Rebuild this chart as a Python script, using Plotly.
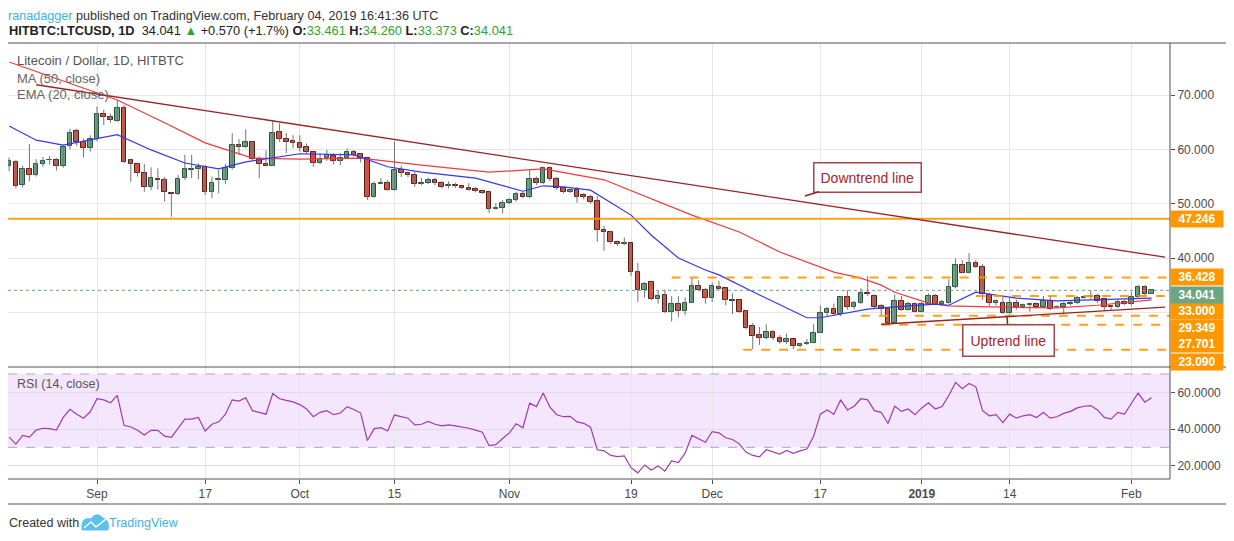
import plotly.graph_objects as go
import pandas as pd

# daily candles, 2018-08-19 .. 2019-02-04 (HITBTC LTCUSD)
FIRST_DAY = '2018-08-19'
LAST_DAY = '2019-02-04'

OPEN = [56.9, 57.7, 53.4, 56.3, 55.2, 57.3, 58.0, 58.0, 57.0, 60.7,
        63.3, 61.4, 60.2, 62.0, 66.6, 66.0, 65.3, 67.6, 58.0, 57.4,
        55.6, 53.0, 54.5, 54.4, 51.9, 51.8, 54.7, 56.2, 56.3, 56.7,
        52.1, 54.3, 54.4, 56.5, 60.8, 60.5, 61.3, 58.2, 57.4, 57.0,
        63.2, 61.9, 61.5, 61.1, 60.4, 59.5, 57.5, 58.4, 58.8, 57.9,
        58.4, 59.6, 59.1, 58.4, 51.3, 53.7, 53.9, 52.6, 56.2, 55.6,
        55.3, 53.6, 53.9, 54.4, 53.8, 53.3, 53.4, 53.2, 52.9, 52.7,
        52.4, 52.1, 49.1, 49.3, 50.1, 50.7, 51.8, 51.2, 54.5, 53.9,
        56.5, 54.5, 52.8, 52.2, 52.5, 51.6, 51.3, 50.5, 45.1, 44.7,
        42.9, 42.6, 42.7, 37.4, 34.1, 35.5, 32.4, 33.1, 30.1, 31.6,
        30.3, 31.8, 34.8, 34.1, 32.6, 34.6, 34.4, 32.3, 32.3, 30.2,
        27.5, 25.8, 25.2, 26.3, 25.2, 24.5, 25.0, 23.8, 24.2, 24.4,
        26.2, 29.8, 30.7, 29.6, 32.9, 30.9, 31.8, 33.6, 33.0, 31.1,
        30.7, 28.1, 32.1, 30.5, 31.5, 30.1, 31.6, 33.0, 31.5, 31.8,
        34.6, 38.7, 37.3, 39.0, 38.3, 33.2, 31.8, 31.8, 29.8, 31.8,
        30.9, 31.4, 31.5, 30.9, 32.1, 30.9, 30.9, 31.5, 31.7, 32.7,
        32.8, 33.0, 32.4, 31.1, 30.9, 31.9, 31.5, 32.8, 34.6, 33.461]
HIGH = [58.5, 58.0, 57.0, 61.0, 58.2, 58.6, 58.8, 58.4, 60.9, 63.8,
        63.8, 62.0, 62.6, 67.9, 67.3, 66.6, 69.1, 68.2, 58.2, 57.6,
        57.3, 56.7, 56.5, 54.9, 52.2, 55.3, 59.0, 59.0, 57.4, 57.1,
        55.0, 56.2, 57.3, 63.0, 61.9, 63.7, 61.5, 58.7, 59.8, 65.4,
        64.8, 63.0, 62.6, 62.6, 61.1, 59.6, 59.3, 59.9, 59.3, 59.3,
        60.2, 59.9, 59.3, 58.5, 54.1, 54.7, 54.4, 61.5, 57.0, 55.9,
        55.9, 54.7, 54.8, 54.8, 54.2, 54.1, 53.9, 53.3, 53.8, 53.1,
        52.6, 52.4, 50.1, 50.7, 51.0, 52.2, 52.2, 56.3, 55.0, 56.8,
        56.9, 54.9, 53.1, 52.8, 53.1, 52.0, 51.6, 51.4, 45.9, 45.0,
        43.2, 43.8, 42.8, 39.1, 35.6, 35.8, 34.1, 34.2, 33.0, 33.0,
        32.7, 36.4, 35.9, 34.5, 35.5, 35.8, 34.6, 33.5, 32.4, 30.4,
        28.0, 27.3, 27.8, 26.7, 25.8, 26.1, 25.0, 24.3, 25.1, 27.8,
        31.3, 31.0, 31.6, 33.0, 34.1, 32.1, 34.4, 36.7, 33.3, 31.5,
        30.9, 33.3, 33.0, 31.9, 31.8, 31.9, 33.5, 33.4, 32.3, 36.1,
        39.9, 39.6, 40.9, 39.6, 38.9, 33.6, 32.4, 32.9, 32.8, 32.3,
        31.6, 31.8, 31.8, 33.0, 32.9, 31.3, 31.9, 32.1, 33.0, 33.1,
        34.1, 33.4, 32.7, 31.3, 32.3, 32.3, 33.8, 35.0, 35.0, 34.26]
LOW = [56.0, 52.8, 53.0, 54.1, 55.0, 56.8, 57.2, 56.1, 56.6, 60.0,
       60.6, 58.5, 59.6, 61.5, 64.5, 64.9, 65.1, 57.5, 54.0, 55.0,
       52.2, 52.5, 52.6, 50.4, 47.6, 51.6, 54.4, 54.7, 54.5, 51.6,
       51.0, 51.9, 53.6, 56.3, 59.0, 60.2, 58.0, 54.7, 56.9, 56.9,
       61.4, 59.3, 60.2, 59.6, 59.2, 56.8, 57.3, 57.9, 57.2, 57.1,
       58.2, 58.7, 57.6, 50.7, 51.1, 53.6, 52.4, 52.4, 54.9, 54.9,
       53.1, 53.4, 53.6, 53.4, 52.8, 52.8, 52.9, 52.7, 52.4, 52.1,
       51.8, 48.3, 48.9, 48.2, 49.9, 50.4, 51.0, 51.0, 53.4, 53.6,
       54.1, 52.5, 51.9, 52.0, 50.2, 50.8, 50.0, 43.0, 41.3, 42.6,
       42.2, 42.4, 36.7, 31.9, 32.7, 32.2, 31.6, 29.9, 28.3, 29.1,
       29.5, 31.7, 34.0, 31.6, 31.9, 34.1, 31.3, 29.7, 29.9, 26.9,
       23.2, 24.0, 25.0, 24.9, 24.2, 24.2, 23.2, 23.6, 24.0, 24.3,
       26.2, 29.2, 29.3, 29.3, 30.5, 30.5, 31.5, 33.0, 30.7, 29.5,
       27.9, 27.9, 30.3, 30.3, 30.0, 30.0, 31.5, 31.3, 31.3, 31.6,
       34.4, 37.2, 37.2, 38.1, 32.3, 31.1, 31.3, 29.7, 29.6, 30.5,
       30.7, 30.1, 30.7, 30.7, 30.4, 30.7, 29.6, 31.3, 31.5, 32.5,
       32.5, 31.7, 30.3, 30.4, 30.8, 31.3, 31.2, 32.6, 33.0, 33.373]
CLOSE = [57.9, 53.3, 56.3, 55.2, 57.4, 57.9, 58.1, 57.0, 60.5, 63.1,
         61.4, 60.2, 62.0, 66.6, 66.0, 65.5, 67.7, 57.7, 57.4, 55.6,
         53.1, 54.7, 54.3, 52.1, 51.7, 54.5, 56.3, 56.3, 56.7, 52.1,
         53.9, 54.5, 56.5, 60.9, 60.5, 61.3, 58.2, 57.4, 57.0, 63.1,
         61.9, 61.4, 61.1, 60.3, 59.5, 57.5, 58.3, 59.0, 57.9, 58.5,
         59.6, 59.0, 58.4, 51.3, 53.7, 53.9, 52.6, 56.2, 55.6, 55.2,
         53.6, 53.9, 54.4, 53.8, 53.1, 53.4, 53.2, 52.8, 52.6, 52.3,
         52.0, 49.1, 49.3, 50.1, 50.7, 51.8, 51.2, 54.5, 53.9, 56.5,
         54.5, 52.8, 52.2, 52.5, 51.3, 51.3, 50.4, 45.1, 44.7, 43.0,
         42.5, 42.7, 37.4, 34.2, 35.3, 32.4, 33.0, 30.1, 31.6, 30.3,
         31.8, 34.9, 34.2, 32.6, 34.8, 34.3, 32.3, 32.1, 30.1, 27.2,
         25.7, 25.2, 26.3, 25.2, 24.5, 25.1, 23.8, 24.2, 24.4, 26.2,
         29.8, 30.7, 29.6, 32.9, 30.9, 31.8, 33.6, 33.3, 31.0, 30.7,
         28.1, 32.1, 30.5, 31.5, 30.1, 31.6, 33.0, 31.5, 31.9, 34.6,
         38.7, 37.3, 39.0, 38.3, 33.3, 31.8, 32.0, 29.8, 31.8, 30.9,
         31.3, 31.5, 30.9, 32.1, 30.7, 31.0, 31.5, 31.8, 32.6, 32.9,
         33.0, 32.1, 31.0, 30.9, 31.9, 31.5, 32.8, 34.6, 33.3, 34.041]

# RSI (14, close), one value per candle
RSI = [35.6, 31.8, 36.5, 35.6, 39.4, 40.4, 40.2, 39.4, 46.3, 50.7,
       48.1, 45.9, 49.4, 56.5, 55.9, 54.3, 58.3, 42.0, 41.1, 39.3,
       36.7, 39.3, 39.3, 36.1, 35.4, 40.7, 45.4, 45.4, 46.3, 38.9,
       42.6, 43.9, 48.1, 55.9, 55.2, 57.0, 50.0, 49.1, 48.1, 59.3,
       56.5, 55.6, 54.8, 53.3, 50.9, 46.7, 49.1, 50.0, 47.8, 48.7,
       52.2, 50.6, 48.7, 33.7, 40.2, 40.7, 38.9, 47.6, 46.7, 45.9,
       42.2, 42.6, 44.1, 42.6, 41.7, 42.2, 41.7, 41.1, 40.4, 39.4,
       38.3, 30.9, 31.5, 34.8, 37.9, 42.9, 40.7, 54.1, 52.2, 59.6,
       51.9, 47.8, 46.7, 46.9, 43.9, 43.1, 41.0, 28.7, 28.1, 25.6,
       25.0, 25.4, 18.9, 16.1, 20.4, 17.6, 19.8, 17.0, 22.6, 21.7,
       26.8, 36.5, 34.8, 32.8, 38.5, 37.9, 35.2, 34.3, 31.9, 27.4,
       25.6, 24.8, 28.7, 27.4, 26.3, 28.3, 26.7, 28.1, 29.1, 36.1,
       48.1, 50.4, 48.1, 55.9, 50.4, 52.4, 56.5, 55.9, 50.0, 49.1,
       43.0, 52.4, 49.6, 50.9, 47.8, 51.5, 54.3, 50.9, 52.2, 58.3,
       65.4, 62.0, 64.8, 63.0, 50.0, 47.2, 47.8, 43.5, 48.1, 45.9,
       47.2, 47.8, 46.3, 49.1, 45.9, 46.7, 48.5, 49.6, 51.5, 52.4,
       52.8, 50.4, 46.3, 45.4, 49.1, 48.1, 53.7, 59.6, 54.6, 57.0]

# MA (50, close) and EMA (20, close), read at candle indexes
MA50_IDX = [0, 16, 23, 29, 36, 43, 52, 61, 71, 79, 88, 90, 92, 101, 108,
            114, 122, 126, 129, 131, 136, 139, 145, 155, 161, 169]
MA50 = [76.1, 69.1, 64.9, 61.2, 58.4, 58.2, 58.4, 57.1, 55.8, 56.4, 54.4,
        53.4, 52.5, 47.9, 44.8, 41.1, 37.4, 36.3, 35.0, 33.7, 31.7, 31.2,
        31.0, 30.8, 31.3, 32.3]
EMA20_IDX = [0, 4, 8, 16, 21, 26, 31, 35, 43, 51, 56, 61, 69, 76, 79, 82,
             86, 90, 92, 95, 99, 103, 105, 111, 118, 120, 127, 129, 137,
             139, 143, 149, 155, 169]
EMA20 = [64.3, 61.7, 60.8, 62.7, 59.9, 57.5, 56.4, 57.7, 59.2, 59.0, 56.8,
         55.8, 54.7, 52.3, 53.3, 53.1, 52.5, 49.4, 47.9, 44.2, 40.0, 37.8,
         36.9, 33.2, 29.0, 29.0, 30.6, 30.8, 31.5, 31.3, 33.7, 32.6, 32.1,
         32.6]

# drawn levels and trend lines
LEVELS = [47.246, 36.428, 33.0, 29.349, 27.701, 23.09]
LEVEL_FROM = ['2018-08-18 16:00', '2018-11-25', '2019-01-09', '2018-12-23',
              '2018-12-26', '2018-12-05 14:00']
LEVEL_LABEL_SHIFT = [0, 0, -15, -12, -19, -12]
LAST_PRICE = 34.041
DOWN_DATES = ['2018-08-23', '2019-02-06']
DOWN_VALUES = [71.9, 40.15]
UP_DATES = ['2018-12-26', '2019-02-06']
UP_VALUES = [27.8, 30.95]

TICK_DATES = ['2018-09-01', '2018-09-17', '2018-10-01', '2018-10-15',
              '2018-11-01', '2018-11-19', '2018-12-01', '2018-12-17',
              '2019-01-01', '2019-01-14', '2019-02-01']
TICK_TEXT = ['Sep', '17', 'Oct', '15', 'Nov', '19', 'Dec', '17',
             '<b>2019</b>', '14', 'Feb']

X_RANGE = ['2018-08-18 20:00', '2019-02-06 17:17']

UP_FILL, UP_LINE = '#6ba583', '#225437'
DN_FILL, DN_LINE = '#d75442', '#5b1a13'
ORANGE = '#ff9800'
TREND = '#9b2226'
FONT = 'Liberation Sans'

dates = pd.date_range(FIRST_DAY, LAST_DAY, freq='D')
up = [c >= o for o, c in zip(OPEN, CLOSE)]

# the page puts the figure 8px in from the top-left corner;
# these convert screen pixels to paper coordinates of the plot area
def px(x):
    return (x - 8) / 1162


def py(y):
    return (479 - y) / 436


fig = go.Figure()

# wicks
wx, wy = [], []
for d, h, l in zip(dates, HIGH, LOW):
    wx += [d, d, None]
    wy += [l, h, None]
fig.add_trace(go.Scatter(x=wx, y=wy, mode='lines',
                         line={'color': '#737375', 'width': 1},
                         hoverinfo='skip', yaxis='y'))

# bodies
fig.add_trace(go.Bar(
    x=dates,
    base=[min(o, c) for o, c in zip(OPEN, CLOSE)],
    y=[max(abs(c - o), 0.08) for o, c in zip(OPEN, CLOSE)],
    width=0.68 * 86400000,
    marker={'color': [UP_FILL if u else DN_FILL for u in up],
            'line': {'color': [UP_LINE if u else DN_LINE for u in up],
                     'width': 1}},
    yaxis='y'
))

fig.add_trace(go.Scatter(x=dates[MA50_IDX], y=MA50, mode='lines',
                         line={'color': '#f23a3a', 'width': 1.2}, yaxis='y'))
fig.add_trace(go.Scatter(x=dates[EMA20_IDX], y=EMA20, mode='lines',
                         line={'color': '#3535f5', 'width': 1.2}, yaxis='y'))

# last price dotted line
fig.add_trace(go.Scatter(x=X_RANGE, y=[LAST_PRICE, LAST_PRICE], mode='lines',
                         line={'color': UP_FILL, 'width': 1, 'dash': 'dot'},
                         yaxis='y'))

# horizontal levels
for i, (lv, start) in enumerate(zip(LEVELS, LEVEL_FROM)):
    fig.add_trace(go.Scatter(
        x=[start, X_RANGE[1]], y=[lv, lv], mode='lines',
        line={'color': ORANGE, 'width': 2, 'dash': 'solid' if i == 0 else 'dash'},
        opacity=0.9, yaxis='y'))

# trend lines
fig.add_trace(go.Scatter(x=DOWN_DATES, y=DOWN_VALUES, mode='lines',
                         line={'color': TREND, 'width': 1.3}, yaxis='y'))
fig.add_trace(go.Scatter(x=UP_DATES, y=UP_VALUES, mode='lines',
                         line={'color': TREND, 'width': 1.3}, yaxis='y'))

# RSI
fig.add_trace(go.Scatter(x=dates, y=RSI, mode='lines',
                         line={'color': '#a03ab4', 'width': 1.2}, yaxis='y2'))

annotations = [
    dict(text='<span style="color:#3bb3e4">ranadagger</span> published on '
              'TradingView.com, February 04, 2019 16:41:36 UTC',
         x=px(7), y=py(8), xref='paper', yref='paper', xanchor='left',
         yanchor='top', showarrow=False, borderpad=0,
         font={'size': 12.6, 'color': '#333333', 'family': FONT}),
    dict(text='<b>HITBTC:LTCUSD, 1D</b>  34.041 '
              '<span style="color:#2da52d">▲</span> +0.570 (+1.7%) '
              '<b>O:</b><span style="color:#2da52d">33.461</span> '
              '<b>H:</b><span style="color:#2da52d">34.260</span> '
              '<b>L:</b><span style="color:#2da52d">33.373</span> '
              '<b>C:</b><span style="color:#2da52d">34.041</span>',
         x=px(7), y=py(31), xref='paper', yref='paper', xanchor='left',
         yanchor='middle', showarrow=False,
         font={'size': 12.8, 'color': '#222222', 'family': FONT}),
    dict(text='Litecoin / Dollar, 1D, HITBTC', x=px(15), y=py(61),
         xref='paper', yref='paper', xanchor='left', yanchor='middle',
         showarrow=False, font={'size': 13, 'color': '#555555', 'family': FONT}),
    dict(text='MA (50, close)', x=px(15), y=py(78),
         xref='paper', yref='paper', xanchor='left', yanchor='middle',
         showarrow=False, font={'size': 13, 'color': '#666666', 'family': FONT}),
    dict(text='EMA (20, close)', x=px(15), y=py(95),
         xref='paper', yref='paper', xanchor='left', yanchor='middle',
         showarrow=False, font={'size': 13, 'color': '#666666', 'family': FONT}),
    dict(text='RSI (14, close)', x=px(15), y=py(384),
         xref='paper', yref='paper', xanchor='left', yanchor='middle',
         showarrow=False, font={'size': 12.5, 'color': '#555555', 'family': FONT}),
    dict(text='Created with', x=px(7), y=py(523), xref='paper', yref='paper',
         xanchor='left', yanchor='middle', showarrow=False,
         font={'size': 12.5, 'color': '#333333', 'family': FONT}),
    dict(text='TradingView', x=px(107), y=py(523), xref='paper', yref='paper',
         xanchor='left', yanchor='middle', showarrow=False,
         font={'size': 12.5, 'color': '#3bb3e4', 'family': FONT}),
    # callouts
    dict(text='Downtrend line', x='2018-12-14 17:00', y=51.4, xref='x', yref='y',
         ax=63, ay=-19, showarrow=True, arrowhead=0, arrowwidth=1.5,
         arrowcolor=TREND, bordercolor='#a8434b', borderwidth=1.5, borderpad=6,
         bgcolor='white', font={'size': 14, 'color': '#a8232b', 'family': FONT}),
    dict(text='Uptrend line', x='2019-01-13 15:00', y=29.3, xref='x', yref='y',
         ax=1, ay=24, showarrow=True, arrowhead=0, arrowwidth=1.5,
         arrowcolor=TREND, bordercolor='#a8434b', borderwidth=1.5, borderpad=7,
         bgcolor='white', font={'size': 14, 'color': '#a8232b', 'family': FONT}),
]

# price labels on the right axis
for lv, sh in zip(LEVELS, LEVEL_LABEL_SHIFT):
    annotations.append(dict(
        text='<b>%.3f</b>' % lv, x=1, y=lv, xref='paper', yref='y',
        xanchor='left', yanchor='middle', yshift=sh, showarrow=False,
        bgcolor=ORANGE, width=50, height=14, borderpad=1,
        font={'size': 12, 'color': 'white', 'family': FONT}))
annotations.append(dict(
    text='<b>%.3f</b>' % LAST_PRICE, x=1, y=LAST_PRICE, xref='paper', yref='y',
    xanchor='left', yanchor='middle', yshift=-5, showarrow=False,
    bgcolor=UP_FILL, width=50, height=14, borderpad=1,
    font={'size': 12, 'color': 'white', 'family': FONT}))

frame = '#505050'
shapes = [
    # RSI band
    dict(type='rect', xref='paper', yref='y2', x0=0, x1=1, y0=30, y1=70,
         fillcolor='#f4e6fd', line={'width': 0}, layer='below'),
    dict(type='line', xref='paper', yref='y2', x0=0, x1=1, y0=70, y1=70,
         line={'color': '#b2a6bd', 'width': 1, 'dash': 'dash'}),
    dict(type='line', xref='paper', yref='y2', x0=0, x1=1, y0=30, y1=30,
         line={'color': '#b2a6bd', 'width': 1, 'dash': 'dash'}),
    # frame
    dict(type='rect', xref='paper', yref='paper', x0=px(7), x1=px(1228),
         y0=py(504), y1=1, line={'color': frame, 'width': 1}),
    dict(type='line', xref='paper', yref='paper', x0=px(7), x1=px(1228),
         y0=py(367), y1=py(367), line={'color': frame, 'width': 1}),
    dict(type='line', xref='paper', yref='paper', x0=1, x1=1,
         y0=0, y1=1, line={'color': frame, 'width': 1}),
    dict(type='line', xref='paper', yref='paper', x0=px(7), x1=1,
         y0=0, y1=0, line={'color': frame, 'width': 1}),
    # tradingview logo: cloud with a white zigzag
    dict(type='path', xref='paper', yref='paper',
         path='M %f %f L %f %f Q %f %f %f %f Q %f %f %f %f Q %f %f %f %f Z' % (
             px(82), py(530), px(82), py(525), px(83), py(517), px(91), py(519),
             px(96), py(511), px(103), py(518), px(110), py(520), px(108), py(530)),
         fillcolor='#5cc0ec', line={'color': '#5cc0ec', 'width': 1}),
    dict(type='path', xref='paper', yref='paper',
         path='M %f %f L %f %f L %f %f L %f %f' % (
             px(84), py(528), px(91), py(522), px(96), py(527), px(106), py(519)),
         line={'color': 'white', 'width': 1.5}),
]

pane_split = py(367)
fig.update_layout(
    width=1226, height=533,
    margin={'l': 0, 'r': 64, 't': 35, 'b': 62},
    paper_bgcolor='white', plot_bgcolor='white',
    showlegend=False, bargap=0,
    font={'family': FONT, 'size': 12, 'color': '#4a4a4a'},
    xaxis={
        'type': 'date', 'range': X_RANGE, 'anchor': 'y2',
        'tickvals': TICK_DATES, 'ticktext': TICK_TEXT,
        'showgrid': True, 'gridcolor': '#e6e6e6', 'zeroline': False,
        'ticks': 'outside', 'ticklen': 4, 'tickcolor': frame,
        'showline': False, 'tickfont': {'size': 12, 'color': '#4a4a4a'},
        'rangeslider': {'visible': False},
    },
    yaxis={
        'domain': [pane_split, 1], 'range': [19.93, 79.59], 'side': 'right',
        'anchor': 'x', 'tickvals': [30, 40, 50, 60, 70],
        'ticktext': ['', '40.000', '50.000', '60.000', '70.000'],
        'showgrid': True, 'gridcolor': '#e6e6e6', 'zeroline': False,
        'ticks': 'outside', 'ticklen': 4, 'tickcolor': frame,
        'tickfont': {'size': 12, 'color': '#4a4a4a'},
    },
    yaxis2={
        'domain': [0, pane_split], 'range': [12.75, 73.8], 'side': 'right',
        'anchor': 'x', 'tickvals': [20, 40, 60],
        'ticktext': ['20.0000', '40.0000', '60.0000'],
        'showgrid': True, 'gridcolor': '#e2d8ea', 'zeroline': False,
        'ticks': 'outside', 'ticklen': 4, 'tickcolor': frame,
        'tickfont': {'size': 12, 'color': '#4a4a4a'},
    },
    annotations=annotations,
    shapes=shapes,
)

fig.write_html("out.html")
